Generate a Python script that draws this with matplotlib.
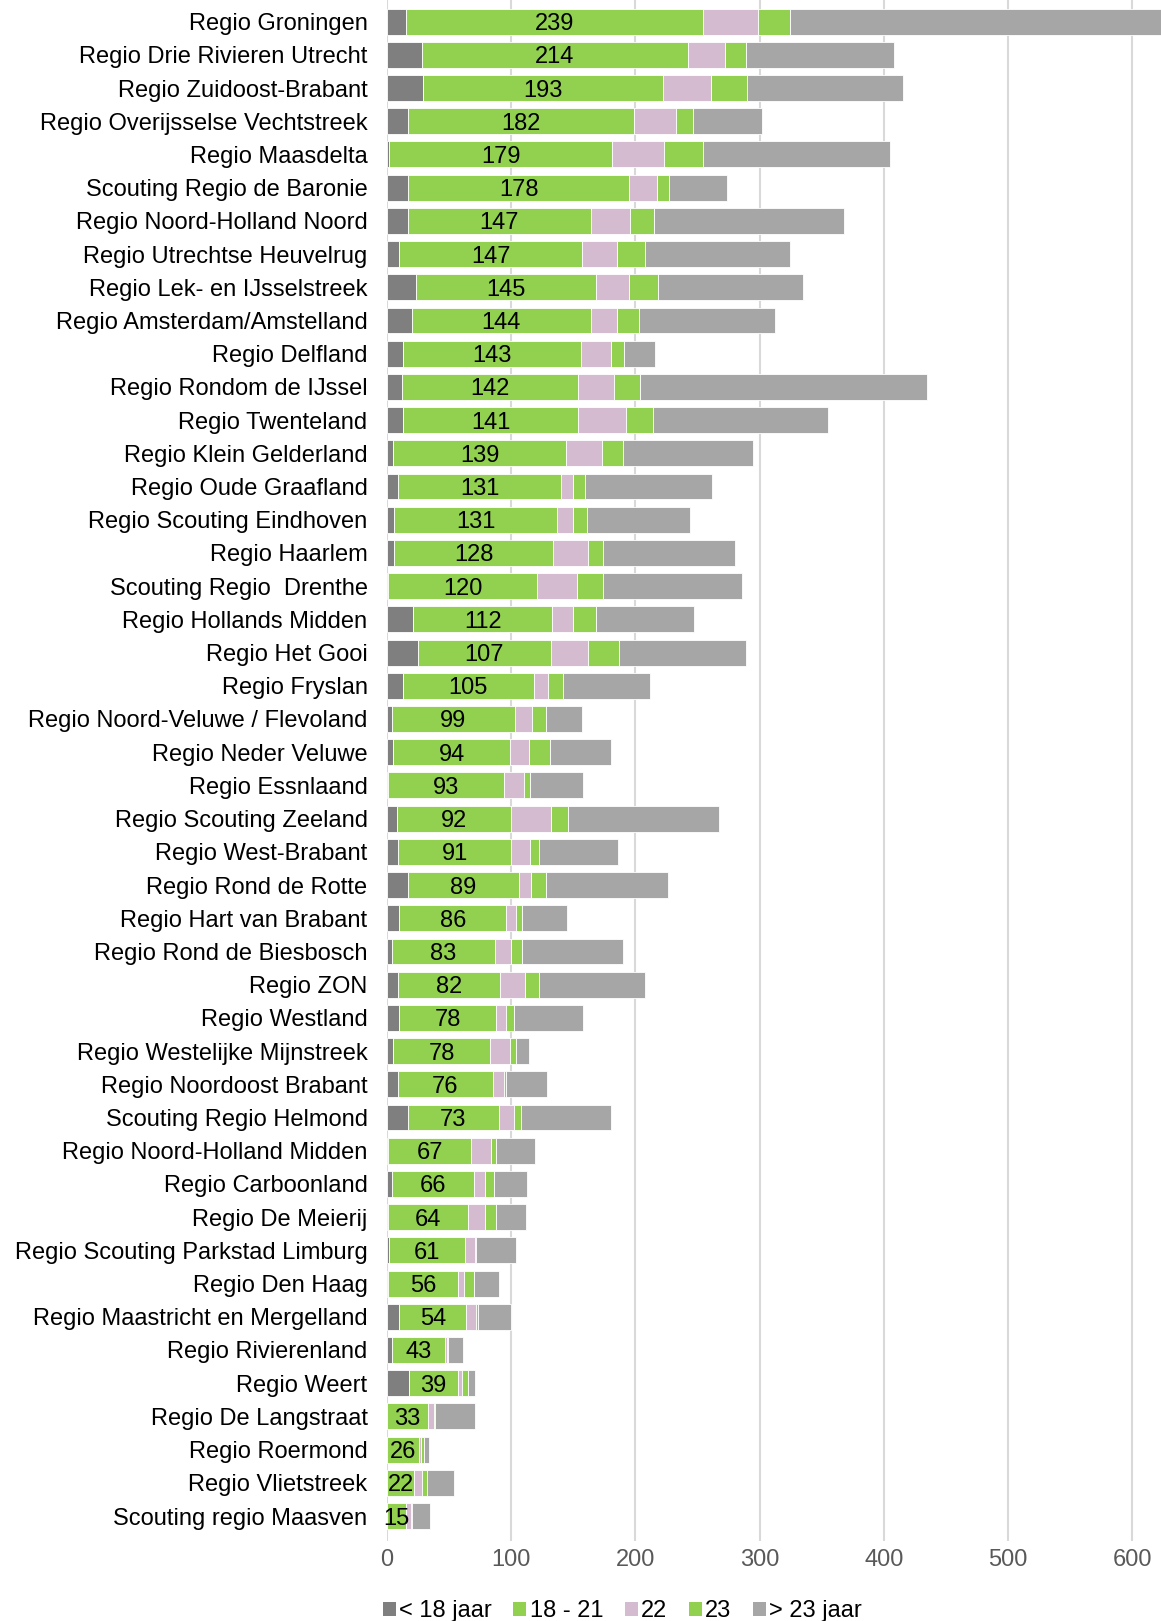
import matplotlib.pyplot as plt
from matplotlib.patches import Patch
import numpy as np

plt.rcParams['font.family'] = ['Liberation Sans', 'DejaVu Sans']

regios = ['Regio Groningen', 'Regio Drie Rivieren Utrecht', 'Regio Zuidoost-Brabant',
          'Regio Overijsselse Vechtstreek', 'Regio Maasdelta', 'Scouting Regio de Baronie',
          'Regio Noord-Holland Noord', 'Regio Utrechtse Heuvelrug', 'Regio Lek- en IJsselstreek',
          'Regio Amsterdam/Amstelland', 'Regio Delfland', 'Regio Rondom de IJssel',
          'Regio Twenteland', 'Regio Klein Gelderland', 'Regio Oude Graafland',
          'Regio Scouting Eindhoven', 'Regio Haarlem', 'Scouting Regio  Drenthe',
          'Regio Hollands Midden', 'Regio Het Gooi', 'Regio Fryslan',
          'Regio Noord-Veluwe / Flevoland', 'Regio Neder Veluwe', 'Regio Essnlaand',
          'Regio Scouting Zeeland', 'Regio West-Brabant', 'Regio Rond de Rotte',
          'Regio Hart van Brabant', 'Regio Rond de Biesbosch', 'Regio ZON',
          'Regio Westland', 'Regio Westelijke Mijnstreek', 'Regio Noordoost Brabant',
          'Scouting Regio Helmond', 'Regio Noord-Holland Midden', 'Regio Carboonland',
          'Regio De Meierij', 'Regio Scouting Parkstad Limburg', 'Regio Den Haag',
          'Regio Maastricht en Mergelland', 'Regio Rivierenland', 'Regio Weert',
          'Regio De Langstraat', 'Regio Roermond', 'Regio Vlietstreek',
          'Scouting regio Maasven']

onder18 = [15, 28, 29, 17, 2, 17, 17, 10, 23, 20, 13, 12, 13, 5, 9,
           6, 6, 1, 21, 25, 13, 4, 5, 1, 8, 9, 17, 10, 4, 9,
           10, 5, 9, 17, 1, 4, 1, 2, 1, 10, 4, 18, 0, 0, 0, 0]
jaar18_21 = [239, 214, 193, 182, 179, 178, 147, 147, 145, 144, 143, 142, 141, 139, 131,
             131, 128, 120, 112, 107, 105, 99, 94, 93, 92, 91, 89, 86, 83, 82,
             78, 78, 76, 73, 67, 66, 64, 61, 56, 54, 43, 39, 33, 26, 22, 15]
jaar22 = [45, 30, 39, 34, 42, 22, 32, 28, 27, 21, 24, 29, 38, 29, 10,
          13, 28, 32, 17, 30, 12, 14, 15, 16, 32, 15, 10, 8, 13, 20,
          8, 16, 9, 12, 16, 9, 14, 8, 5, 8, 1, 3, 5, 1, 6, 4]
jaar23 = [25, 17, 29, 13, 31, 10, 19, 23, 23, 18, 11, 21, 22, 17, 9,
          11, 12, 21, 18, 25, 12, 11, 17, 5, 14, 7, 12, 5, 9, 11,
          6, 5, 2, 6, 4, 7, 9, 1, 8, 1, 1, 5, 1, 3, 4, 1]
boven23 = [326, 119, 125, 56, 151, 47, 153, 116, 117, 109, 25, 231, 141, 105, 103,
           83, 106, 112, 79, 102, 70, 29, 49, 43, 121, 64, 98, 36, 81, 86,
           56, 10, 33, 72, 31, 27, 24, 32, 20, 27, 12, 6, 32, 4, 22, 15]

reeksen = ['< 18 jaar', '18 - 21', '22', '23', '> 23 jaar']
kleuren = ['#7f7f7f', '#92d050', '#d5bbd0', '#92d050', '#a6a6a6']

fig = plt.figure(figsize=(11.61, 16.21), dpi=100)
ax = fig.add_axes([0.3333, 0.0494, 0.6667, 0.9506])

y = np.arange(len(regios))
links = np.zeros(len(regios))
for waarden, kleur in zip([onder18, jaar18_21, jaar22, jaar23, boven23], kleuren):
    ax.barh(y, waarden, left=links, height=0.78, color=kleur,
            edgecolor='white', linewidth=0.6, zorder=2)
    links += np.array(waarden)

for i, (a, b) in enumerate(zip(onder18, jaar18_21)):
    ax.text(a + b / 2, i, str(b), ha='center', va='center_baseline', fontsize=17,
            color='black', zorder=3)

ax.set_xlim(0, 623)
ax.set_ylim(45.75, -0.65)
ax.set_yticks(y)
ax.set_yticklabels(regios, fontsize=17)
ax.set_xticks(range(0, 601, 100))
ax.tick_params(axis='x', labelsize=17, labelcolor='#595959', length=0, pad=6)
ax.tick_params(axis='y', length=0, pad=14)
ax.grid(axis='x', color='#d9d9d9', linewidth=1.5, zorder=0)
for s in ax.spines.values():
    s.set_visible(False)

handles = [Patch(facecolor=k, edgecolor='none') for k in kleuren]
fig.legend(handles, reeksen, loc='lower center', bbox_to_anchor=(0.536, -0.014),
           ncol=5, frameon=False, fontsize=17, handlelength=0.55, handleheight=0.55,
           handletextpad=0.15, columnspacing=0.9)

fig.savefig('out.png', dpi=100)
